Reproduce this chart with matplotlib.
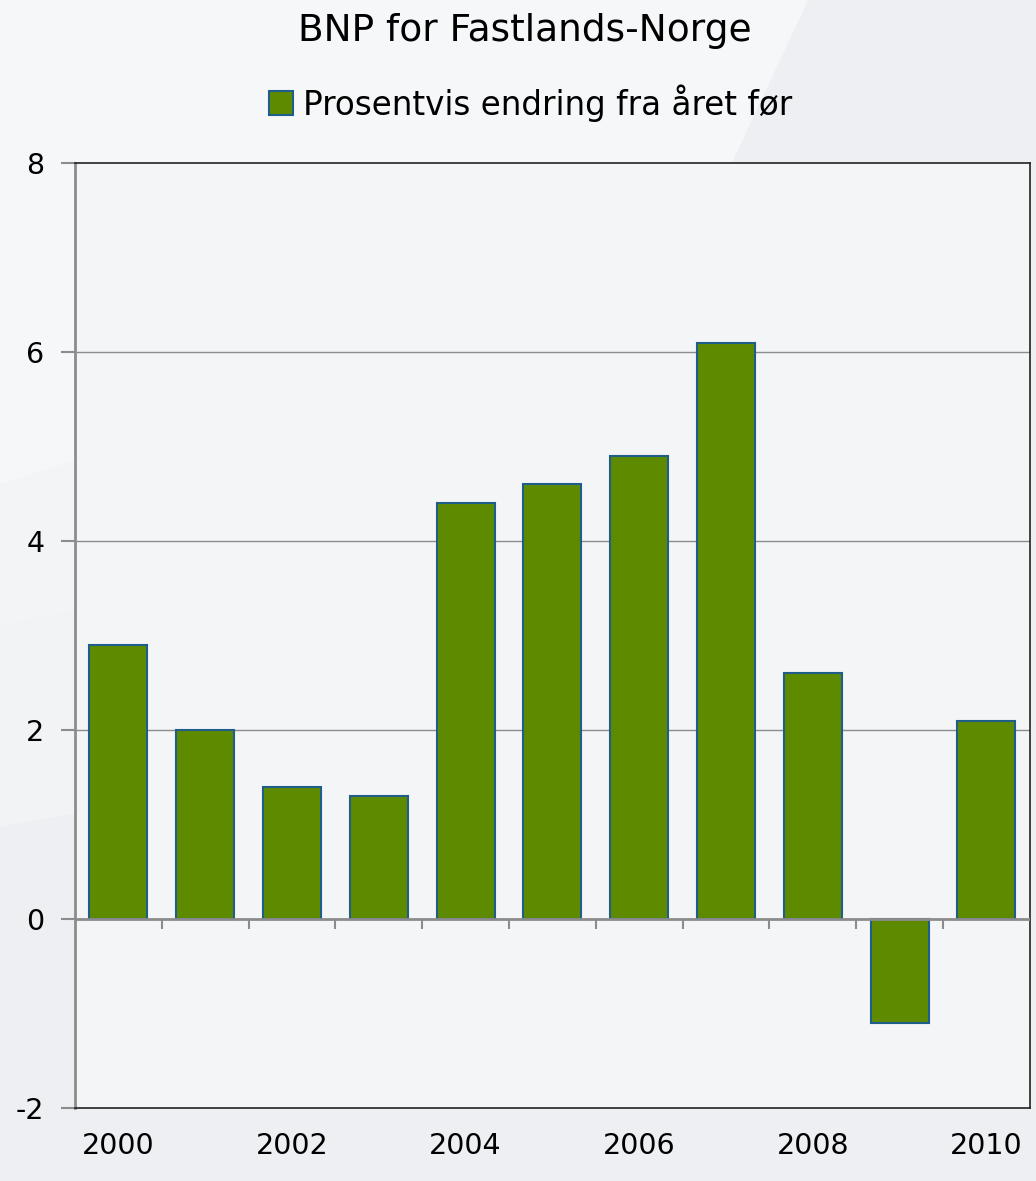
import matplotlib.pyplot as plt
from matplotlib.patches import Polygon
import numpy as np

years = [2000, 2001, 2002, 2003, 2004, 2005, 2006, 2007, 2008, 2009, 2010]
growth = [2.9, 2.0, 1.4, 1.3, 4.4, 4.6, 4.9, 6.1, 2.6, -1.1, 2.1]
year_labels = ["2000", "2002", "2004", "2006", "2008", "2010"]
y_ticks = [-2, 0, 2, 4, 6, 8]

bar_color = "#5E8A00"
edge_color = "#1F5E8A"
grid_color = "#8C8C8C"

plt.rcParams["font.family"] = ["DejaVu Sans"]

fig = plt.figure(figsize=(10.36, 11.81), dpi=100, facecolor="#EDEFF2")

# light diagonal panes in the background
bg_shapes = [
    [(0, 1), (0.78, 1), (0.66, 0.775), (0, 0.59)],
    [(0, 0.59), (0.66, 0.775), (0.45, 0.55), (0, 0.47)],
    [(0, 0.47), (0.45, 0.55), (0.2, 0.33), (0, 0.3)],
]
for pts, a in zip(bg_shapes, [0.55, 0.35, 0.25]):
    fig.patches.append(Polygon(pts, closed=True, transform=fig.transFigure,
                               facecolor="white", edgecolor="none", alpha=a, zorder=-1))

ax = fig.add_axes([0.0724, 0.0618, 0.9216, 0.8002])
ax.set_facecolor("#F4F5F7")

x = np.arange(len(years))
ax.bar(x, growth, width=0.67, color=bar_color, edgecolor=edge_color, linewidth=1.5,
       zorder=3, label="Prosentvis endring fra året før")

ax.set_xlim(-0.5, len(years) - 0.5)
ax.set_ylim(-2, 8)

for g in [2, 4, 6]:
    ax.axhline(g, color=grid_color, lw=1, zorder=1)
ax.axhline(0, color=grid_color, lw=2, zorder=4)
bounds = x[:-1] + 0.5
ax.vlines(bounds, -0.11, 0, color=grid_color, lw=1.5, zorder=4)

ax.set_yticks(y_ticks)
ax.set_yticklabels([str(v) for v in y_ticks], fontsize=20.5)
ax.tick_params(axis="y", length=10, color=grid_color, width=1.5, pad=12)

ax.set_xticks([years.index(int(l)) for l in year_labels])
ax.set_xticklabels(year_labels, fontsize=20.5)
ax.tick_params(axis="x", length=0, pad=17)

ax.spines["left"].set_color(grid_color)
ax.spines["left"].set_linewidth(2)
for s in ["top", "right", "bottom"]:
    ax.spines[s].set_color("#222222")
    ax.spines[s].set_linewidth(1.2)

fig.text(0.507, 0.974, "BNP for Fastlands-Norge", ha="center", va="center", fontsize=27)
fig.legend(loc="center", bbox_to_anchor=(0.512, 0.913), frameon=False, fontsize=23.5,
           handlelength=0.75, handleheight=0.75, handletextpad=0.3)

fig.savefig("out.png", dpi=100, facecolor=fig.get_facecolor())
